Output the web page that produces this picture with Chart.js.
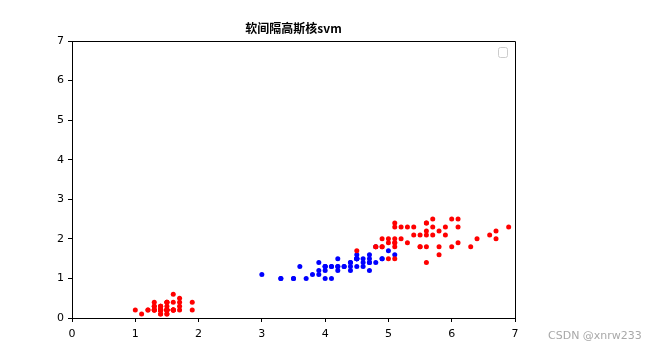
<!DOCTYPE html>
<html>
<head>
<meta charset="utf-8">
<script src="https://cdn.jsdelivr.net/npm/chart.js@4.4.0/dist/chart.umd.min.js"></script>
<style>
  html, body { margin: 0; padding: 0; background: #fff; }
  #wrap { position: relative; width: 650px; height: 349px; }
</style>
</head>
<body>
<div id="wrap"><canvas id="svmChart" width="650" height="349"></canvas></div>
<script>
// petal length / petal width, red class (setosa + virginica)
const redX = [1.4,1.4,1.3,1.5,1.4,1.7,1.4,1.5,1.4,1.5,1.5,1.6,1.4,1.1,1.2,1.5,1.3,1.4,1.7,1.5,1.7,1.5,1.0,1.7,1.9,1.6,1.6,1.5,1.4,1.6,1.6,1.5,1.5,1.4,1.5,1.2,1.3,1.4,1.3,1.5,1.3,1.3,1.3,1.6,1.9,1.4,1.6,1.4,1.5,1.4,
  6.0,5.1,5.9,5.6,5.8,6.6,4.5,6.3,5.8,6.1,5.1,5.3,5.5,5.0,5.1,5.3,5.5,6.7,6.9,5.0,5.7,4.9,6.7,4.9,5.7,6.0,4.8,4.9,5.6,5.8,6.1,6.4,5.6,5.1,5.6,6.1,5.6,5.5,4.8,5.4,5.6,5.1,5.1,5.9,5.7,5.2,5.0,5.2,5.4,5.1];
const redY = [0.2,0.2,0.2,0.2,0.2,0.4,0.3,0.2,0.2,0.1,0.2,0.2,0.1,0.1,0.2,0.4,0.4,0.3,0.3,0.3,0.2,0.4,0.2,0.5,0.2,0.2,0.4,0.2,0.2,0.2,0.2,0.4,0.1,0.2,0.2,0.2,0.2,0.1,0.2,0.2,0.3,0.3,0.2,0.6,0.4,0.3,0.2,0.2,0.2,0.2,
  2.5,1.9,2.1,1.8,2.2,2.1,1.7,1.8,1.8,2.5,2.0,1.9,2.1,2.0,2.4,2.3,1.8,2.2,2.3,1.5,2.3,2.0,2.0,1.8,2.1,1.8,1.8,1.8,2.1,1.6,1.9,2.0,2.2,1.5,1.4,2.3,2.4,1.8,1.8,2.1,2.4,2.3,1.9,2.3,2.5,2.3,1.9,2.0,2.3,1.8];
// blue class (versicolor)
const blueX = [4.7,4.5,4.9,4.0,4.6,4.5,4.7,3.3,4.6,3.9,3.5,4.2,4.0,4.7,3.6,4.4,4.5,4.1,4.5,3.9,4.8,4.0,4.9,4.7,4.3,4.4,4.8,5.0,4.5,3.5,3.8,3.7,3.9,5.1,4.5,4.5,4.7,4.4,4.1,4.0,4.4,4.6,4.0,3.3,4.2,4.2,4.2,4.3,3.0,4.1];
const blueY = [1.4,1.5,1.5,1.3,1.5,1.3,1.6,1.0,1.3,1.4,1.0,1.5,1.0,1.4,1.3,1.4,1.5,1.0,1.5,1.1,1.8,1.3,1.5,1.2,1.3,1.4,1.4,1.7,1.5,1.0,1.1,1.0,1.2,1.6,1.5,1.6,1.5,1.3,1.3,1.3,1.2,1.4,1.2,1.0,1.3,1.2,1.3,1.3,1.1,1.3];

const titleText = '软间隔高斯核svm';
const tickValues = [0, 1, 2, 3, 4, 5, 6, 7];

const toPoints = (xs, ys) => xs.map((x, i) => ({ x: x, y: ys[i] }));

// frame on top/right, title, empty legend box, watermark
const decorPlugin = {
    id: 'decor',
    afterDraw(chart) {
        const ctx = chart.ctx;
        const a = chart.chartArea;
        ctx.save();
        ctx.strokeStyle = '#000';
        ctx.lineWidth = 1;
        ctx.beginPath();
        ctx.moveTo(a.left, a.top + 0.5);
        ctx.lineTo(a.right + 0.5, a.top + 0.5);
        ctx.lineTo(a.right + 0.5, a.bottom);
        ctx.stroke();

        ctx.fillStyle = '#000';
        ctx.font = 'bold 12px "Noto Sans CJK SC", "DejaVu Sans", sans-serif';
        ctx.textAlign = 'center';
        ctx.textBaseline = 'middle';
        ctx.fillText(titleText, (a.left + a.right) / 2, 28);

        // empty legend handle
        ctx.strokeStyle = '#cccccc';
        ctx.beginPath();
        ctx.roundRect(498.5, 47.5, 9, 10, 2);
        ctx.stroke();

        ctx.fillStyle = '#a8a8a8';
        ctx.font = '11px "DejaVu Sans", sans-serif';
        ctx.textAlign = 'left';
        ctx.fillText('CSDN @xnrw233', 548, 336);
        ctx.restore();
    }
};

const axisFont = { family: '"DejaVu Sans", sans-serif', size: 11 };

new Chart(document.getElementById('svmChart').getContext('2d'), {
    type: 'scatter',
    data: {
        datasets: [
            {
                data: toPoints(redX, redY),
                backgroundColor: '#ff0000',
                borderWidth: 0,
                pointRadius: 2.5
            },
            {
                data: toPoints(blueX, blueY),
                backgroundColor: '#0000ff',
                borderWidth: 0,
                pointRadius: 2.5
            }
        ]
    },
    options: {
        responsive: false,
        animation: false,
        layout: { padding: { top: 41, right: 135, left: 0, bottom: 0 } },
        plugins: {
            legend: { display: false },
            tooltip: { enabled: false }
        },
        scales: {
            x: {
                type: 'linear',
                min: 0,
                max: 7,
                afterBuildTicks: s => { s.ticks = tickValues.map(v => ({ value: v })); },
                afterFit: s => { s.height = 31; },
                grid: { drawOnChartArea: false, drawTicks: true, tickLength: 4, tickColor: '#000' },
                border: { color: '#000', width: 1 },
                ticks: { color: '#000', font: axisFont, padding: 6, maxRotation: 0 }
            },
            y: {
                type: 'linear',
                min: 0,
                max: 7,
                afterBuildTicks: s => { s.ticks = tickValues.map(v => ({ value: v })); },
                afterFit: s => { s.width = 72; },
                grid: { drawOnChartArea: false, drawTicks: true, tickLength: 4, tickColor: '#000' },
                border: { color: '#000', width: 1 },
                ticks: { color: '#000', font: axisFont, padding: 4 }
            }
        }
    },
    plugins: [decorPlugin]
});
</script>
</body>
</html>
